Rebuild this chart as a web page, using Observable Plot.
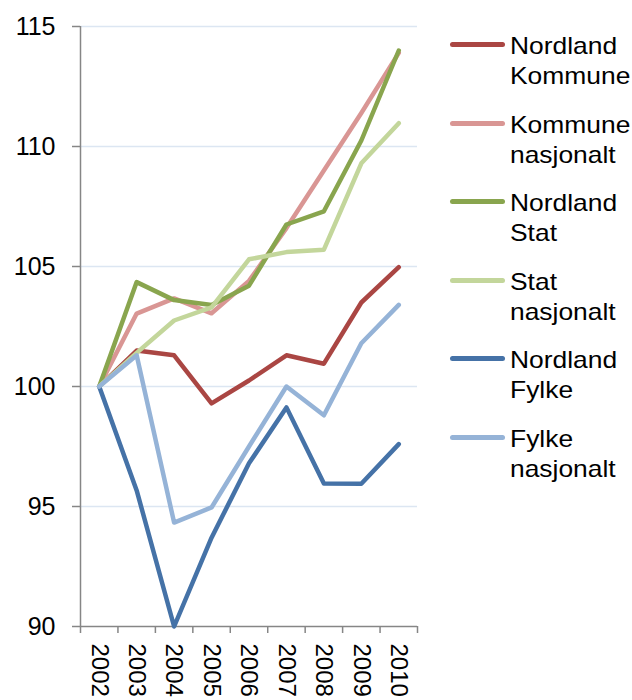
<!DOCTYPE html>
<html>
<head>
<meta charset="utf-8">
<script src="https://cdn.jsdelivr.net/npm/d3@7"></script>
<script src="https://cdn.jsdelivr.net/npm/@observablehq/plot@0.6"></script>
<style>
  html, body { margin: 0; padding: 0; background: #fff; }
  #wrap { position: relative; width: 632px; height: 700px; overflow: hidden; font-family: "Liberation Sans", Arial, sans-serif; }
  #legend { position: absolute; left: 450px; top: 0; }
  .item { position: absolute; left: 0; width: 190px; }
  .swatch { position: absolute; left: 0; top: 11px; width: 55px; height: 5px; border-radius: 3px; }
  .lab { position: absolute; left: 60px; top: 0; font-size: 24px; line-height: 30px; color: #000; white-space: nowrap; transform: scaleX(1.1); transform-origin: left top; }
</style>
</head>
<body>
<div id="wrap"><div id="legend"></div></div>
<script>
const years = [2002, 2003, 2004, 2005, 2006, 2007, 2008, 2009, 2010];
const seriesNames = ["Nordland Kommune", "Kommune nasjonalt", "Nordland Stat", "Stat nasjonalt", "Nordland Fylke", "Fylke nasjonalt"];
const seriesLabels = [["Nordland", "Kommune"], ["Kommune", "nasjonalt"], ["Nordland", "Stat"], ["Stat", "nasjonalt"], ["Nordland", "Fylke"], ["Fylke", "nasjonalt"]];
const seriesColors = ["#AA4643", "#D99694", "#89A54E", "#C3D69B", "#4572A7", "#95B3D7"];
const nordlandKommune = [100, 101.5, 101.3, 99.3, 100.25, 101.3, 100.95, 103.5, 104.97];
const kommuneNasjonalt = [100, 103.04, 103.67, 103.05, 104.4, 106.6, 109.0, 111.4, 113.9];
const nordlandStat = [100, 104.35, 103.6, 103.4, 104.2, 106.75, 107.3, 110.25, 114.0];
const statNasjonalt = [100, 101.4, 102.75, 103.3, 105.3, 105.6, 105.7, 109.3, 110.97];
const nordlandFylke = [100, 95.67, 90.0, 93.7, 96.8, 99.13, 95.96, 95.95, 97.6];
const fylkeNasjonalt = [100, 101.3, 94.33, 94.96, 97.5, 100.0, 98.8, 101.8, 103.4];
const yTicks = [90, 95, 100, 105, 110, 115];

const allValues = [nordlandKommune, kommuneNasjonalt, nordlandStat, statNasjonalt, nordlandFylke, fylkeNasjonalt];
const data = [];
allValues.forEach((vals, i) => vals.forEach((v, j) => data.push({series: seriesNames[i], year: years[j], value: v})));

const boundaries = years.map(y => y - 0.5).concat([years[years.length - 1] + 0.5]);
const xDomain = [boundaries[0], boundaries[boundaries.length - 1]];

const chart = Plot.plot({
  width: 632,
  height: 700,
  marginLeft: 80,
  marginRight: 215,
  marginTop: 26,
  marginBottom: 74,
  style: {fontFamily: "'Liberation Sans', Arial, sans-serif", fontSize: "24px", background: "#fff", overflow: "visible"},
  x: {domain: xDomain},
  y: {domain: [90, 115]},
  color: {domain: seriesNames, range: seriesColors},
  marks: [
    Plot.ruleY(yTicks.slice(1), {stroke: "#DCE6F2", strokeWidth: 1.5}),
    Plot.ruleY([90], {stroke: "#868686", strokeWidth: 1.5}),
    Plot.ruleX([xDomain[0]], {stroke: "#868686", strokeWidth: 1.5}),
    Plot.axisY({ticks: yTicks, tickSize: 8, tickPadding: 17, fontSize: 25, stroke: "#868686", strokeWidth: 1.5, fill: "#000", label: null}),
    Plot.axisX({ticks: boundaries, tickSize: 7, tickFormat: () => "", stroke: "#868686", strokeWidth: 1.5, label: null}),
    Plot.axisX({ticks: years, tickSize: 0, tickPadding: 17, tickRotate: 90, textAnchor: "start", tickFormat: d => String(d), fontSize: 24, fill: "#000", label: null}),
    Plot.line(data, {x: "year", y: "value", z: "series", stroke: "series", strokeWidth: 4.5, strokeLinejoin: "round", strokeLinecap: "round"})
  ]
});
document.getElementById("wrap").prepend(chart);

const legend = document.getElementById("legend");
seriesNames.forEach((name, i) => {
  const item = document.createElement("div");
  item.className = "item";
  item.style.top = (31 + i * 78.6) + "px";
  const sw = document.createElement("div");
  sw.className = "swatch";
  sw.style.background = seriesColors[i];
  const lab = document.createElement("div");
  lab.className = "lab";
  lab.innerHTML = seriesLabels[i].join("<br>");
  item.appendChild(sw);
  item.appendChild(lab);
  legend.appendChild(item);
});
</script>
</body>
</html>
